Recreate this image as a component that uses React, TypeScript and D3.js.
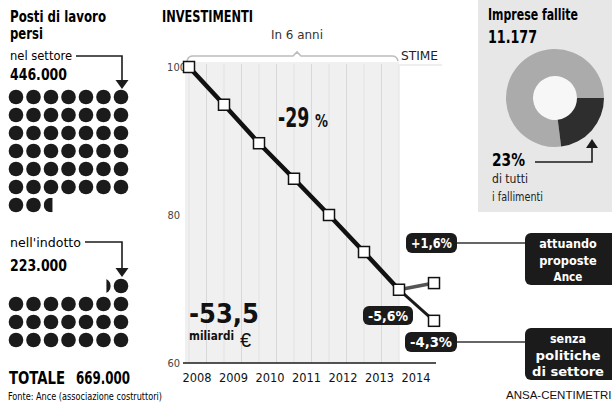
import React from 'react';
import * as d3 from 'd3';

// ---------- DATA ----------
const years = ['2008', '2009', '2010', '2011', '2012', '2013', '2014'];
const investIndex = [100, 94.9, 89.7, 84.9, 80.0, 75.0, 69.9];
const scenarioIndex = [70.8, 65.7];
const scenarioChange = ['+1,6%', '-4,3%'];
const scenarioNames = [
  ['attuando', 'proposte', 'Ance'],
  ['senza', 'politiche', 'di settore'],
];
const lastYearChange = '-5,6%';
const yTicks = [100, 80, 60];
const jobsSector = 446000;
const jobsIndotto = 223000;
const jobsUnit = 10000;
const failedShare = 0.23;

// ---------- STYLE ----------
const COND = "'Liberation Sans Narrow','DejaVu Sans Condensed','Arial Narrow','DejaVu Sans',sans-serif";
const PLAIN = "'Liberation Sans',Arial,sans-serif";
const DARK = '#1b1b1b';

const COLS = 7;
const DOT_DX = 17.5;
const DOT_DY = 18;
const DOT_R = 7.3;
const DOT_X0 = 16;

type Dot = { cx: number; cy: number; frac: number; fromLeft: boolean };

function dotsTopDown(value: number, y0: number): Dot[] {
  const n = value / jobsUnit;
  const out: Dot[] = [];
  const full = Math.floor(n);
  const total = Math.ceil(n);
  for (let i = 0; i < total; i++) {
    const r = Math.floor(i / COLS);
    const c = i % COLS;
    out.push({ cx: DOT_X0 + c * DOT_DX, cy: y0 + r * DOT_DY, frac: i < full ? 1 : n - full, fromLeft: true });
  }
  return out;
}

function dotsBottomUp(value: number, yBottom: number): Dot[] {
  const n = value / jobsUnit;
  const out: Dot[] = [];
  const full = Math.floor(n);
  const total = Math.ceil(n);
  for (let i = 0; i < total; i++) {
    const r = Math.floor(i / COLS);
    const c = COLS - 1 - (i % COLS);
    out.push({ cx: DOT_X0 + c * DOT_DX, cy: yBottom - r * DOT_DY, frac: i < full ? 1 : n - full, fromLeft: false });
  }
  return out;
}

function DotGroup({ dots, id }: { dots: Dot[]; id: string }) {
  return (
    <g>
      {dots.map((d, i) => {
        if (d.frac >= 1) return <circle key={i} cx={d.cx} cy={d.cy} r={DOT_R} fill={DARK} />;
        const w = 2 * DOT_R * d.frac;
        const cx0 = d.fromLeft ? d.cx - DOT_R : d.cx + DOT_R - w;
        return (
          <g key={i}>
            <clipPath id={`${id}-${i}`}>
              <rect x={cx0} y={d.cy - DOT_R} width={w} height={2 * DOT_R} />
            </clipPath>
            <circle cx={d.cx} cy={d.cy} r={DOT_R} fill={DARK} clipPath={`url(#${id}-${i})`} />
          </g>
        );
      })}
    </g>
  );
}

function Label({ x, y, w, h, text }: { x: number; y: number; w: number; h: number; text: string }) {
  return (
    <g>
      <rect x={x} y={y} width={w} height={h} rx={6} fill={DARK} />
      <text x={x + w / 2} y={y + h / 2 + 5} textAnchor="middle" fill="#fff" fontFamily={COND} fontWeight={700} fontSize={14}
        textLength={w - 10} lengthAdjust="spacingAndGlyphs">
        {text}
      </text>
    </g>
  );
}

export default function App() {
  const x = d3.scaleLinear().domain([0, 7]).range([189, 434]);
  const y = d3.scaleLinear().domain([60, 100]).range([363, 67]);
  const yearX = d3.scalePoint<string>().domain(years).range([197, 416]);

  const line = d3.line<number>().x((_, i) => x(i)).y((v) => y(v));
  const last = investIndex.length - 1;

  const arc = d3.arc<any>();
  const donutC = [555, 98];
  const rIn = 22;
  const rOut = 49;
  const darkStart = Math.PI / 2;
  const darkEnd = darkStart + failedShare * 2 * Math.PI;

  const dots1 = dotsTopDown(jobsSector, 97);
  const dots2 = dotsBottomUp(jobsIndotto, 340);

  const gridXs = d3.range(0, last).map((i) => x(i + 0.5));

  return (
    <svg width={612} height={402} style={{ position: 'absolute', left: 0, top: 0, background: '#fff' }}>
      {/* ---------- LEFT PANEL ---------- */}
      <text x={10} y={22} fontFamily={COND} fontWeight={700} fontSize={15} textLength={96} lengthAdjust="spacingAndGlyphs">Posti di lavoro</text>
      <text x={10} y={39} fontFamily={COND} fontWeight={700} fontSize={15} textLength={33} lengthAdjust="spacingAndGlyphs">persi</text>
      <text x={10} y={60} fontFamily={COND} fontSize={13} textLength={62} lengthAdjust="spacingAndGlyphs">nel settore</text>
      <path d="M76,56 H122 V81" fill="none" stroke={DARK} strokeWidth={1.6} />
      <path d="M115.5,80 L128.5,80 L122,89 Z" fill={DARK} />
      <text x={10} y={80} fontFamily={COND} fontWeight={700} fontSize={16} textLength={57} lengthAdjust="spacingAndGlyphs">446.000</text>
      <DotGroup dots={dots1} id="d1" />

      <text x={10} y={247} fontFamily={COND} fontSize={13} textLength={71} lengthAdjust="spacingAndGlyphs">nell'indotto</text>
      <path d="M85,242 H122 V269" fill="none" stroke={DARK} strokeWidth={1.6} />
      <path d="M115.5,268 L128.5,268 L122,277 Z" fill={DARK} />
      <text x={10} y={271} fontFamily={COND} fontWeight={700} fontSize={16} textLength={57} lengthAdjust="spacingAndGlyphs">223.000</text>
      <DotGroup dots={dots2} id="d2" />

      <text x={9} y={384} fontFamily={COND} fontWeight={700} fontSize={17} textLength={56} lengthAdjust="spacingAndGlyphs">TOTALE</text>
      <text x={76} y={384} fontFamily={COND} fontWeight={700} fontSize={17} textLength={54} lengthAdjust="spacingAndGlyphs">669.000</text>
      <text x={8} y={400} fontFamily={COND} fontSize={10} textLength={154} lengthAdjust="spacingAndGlyphs">Fonte: Ance (associazione costruttori)</text>

      {/* ---------- CENTER CHART ---------- */}
      <text x={162} y={22} fontFamily={COND} fontWeight={700} fontSize={15} textLength={91} lengthAdjust="spacingAndGlyphs">INVESTIMENTI</text>
      <text x={297} y={39} textAnchor="middle" fontFamily={COND} fontSize={13} fill="#333" textLength={52} lengthAdjust="spacingAndGlyphs">In 6 anni</text>
      <path d="M187,61 Q188,56 193,56 H293 L297,52 L301,56 H392 Q397,56 398,61" fill="none" stroke="#bdbdbd" strokeWidth={1.6} />
      <text x={401} y={60} fontFamily={COND} fontSize={13} fill="#222" textLength={37} lengthAdjust="spacingAndGlyphs">STIME</text>
      <line x1={400} x2={442} y1={65} y2={65} stroke="#dcdcdc" strokeWidth={1} />

      <rect x={185} y={62} width={x(last) - 185} height={y(60) - 62} fill="#f0f0f0" />
      {gridXs.map((gx, i) => (
        <line key={i} x1={gx} x2={gx} y1={64} y2={y(60)} stroke="#d8d8d8" strokeWidth={1} />
      ))}
      {investIndex.map((_, i) => (
        <line key={'p' + i} x1={x(i)} x2={x(i)} y1={64} y2={y(60)} stroke="#e2e2e2" strokeWidth={1} />
      ))}

      <line x1={183} x2={436} y1={y(60)} y2={y(60)} stroke={DARK} strokeWidth={1.6} />
      {yTicks.map((t) => (
        <text key={t} x={t === 100 ? 186 : 180} y={y(t) + 4} textAnchor="end" fontFamily={COND} fontSize={11} fill="#444">{t}</text>
      ))}
      {years.map((yr) => (
        <text key={yr} x={yearX(yr)} y={382} textAnchor="middle" fontFamily={COND} fontSize={13} fill="#111"
          textLength={29} lengthAdjust="spacingAndGlyphs">{yr}</text>
      ))}

      {/* scenario branches */}
      <line x1={x(last)} y1={y(investIndex[last])} x2={x(last + 1)} y2={y(scenarioIndex[0])} stroke="#555" strokeWidth={3.5} />
      <line x1={x(last)} y1={y(investIndex[last])} x2={x(last + 1)} y2={y(scenarioIndex[1])} stroke={DARK} strokeWidth={3} />
      {/* main line */}
      <path d={line(investIndex) || ''} fill="none" stroke="#111" strokeWidth={4.5} strokeLinejoin="round" />
      {[...investIndex.map((v, i) => [x(i), y(v)]), ...scenarioIndex.map((v) => [x(last + 1), y(v)])].map(([px, py], i) => (
        <rect key={i} x={px - 5.5} y={py - 5.5} width={11} height={11} fill="#fff" stroke="#111" strokeWidth={1.5} />
      ))}

      {/* big annotations */}
      <text transform="translate(278,127) scale(0.74,1)" fontFamily={COND} fontWeight={700} fontSize={26} fill="#111">-29</text>
      <text transform="translate(315,127) scale(0.8,1)" fontFamily={COND} fontWeight={700} fontSize={18} fill="#111">%</text>
      <text x={189} y={323} fontFamily={COND} fontWeight={700} fontSize={26} fill="#111" textLength={70} lengthAdjust="spacingAndGlyphs">-53,5</text>
      <text x={189} y={340} fontFamily={COND} fontWeight={700} fontSize={12} fill="#111" textLength={45} lengthAdjust="spacingAndGlyphs">miliardi</text>
      <text x={240} y={347} fontFamily={PLAIN} fontSize={20} fill="#111">€</text>

      <Label x={363} y={306} w={50} h={19} text={lastYearChange} />
      <Label x={406} y={233} w={51} h={20} text={scenarioChange[0]} />
      <Label x={405} y={332} w={52} h={20} text={scenarioChange[1]} />
      <line x1={457} x2={526} y1={243} y2={243} stroke="#333" strokeWidth={1.5} />
      <line x1={457} x2={526} y1={342} y2={342} stroke="#333" strokeWidth={1.5} />

      {scenarioNames.map((lines, k) => {
        const top = k === 0 ? 233 : 328;
        return (
          <g key={k}>
            <rect x={525} y={top} width={95} height={52} rx={6} fill={DARK} />
            {lines.map((ln, j) => (
              <text key={j} x={568} y={top + 15 + j * 16.5} textAnchor="middle" fill="#fff" fontFamily={COND} fontWeight={700} fontSize={13}
                textLength={ln.length * 7.2} lengthAdjust="spacingAndGlyphs">{ln}</text>
            ))}
          </g>
        );
      })}
      <text x={506} y={399} fontFamily={PLAIN} fontSize={11.5} fill="#111">ANSA-CENTIMETRI</text>

      {/* ---------- RIGHT PANEL ---------- */}
      <rect x={478} y={0} width={134} height={212} fill="#e7e7e7" />
      <text x={488} y={20} fontFamily={COND} fontWeight={700} fontSize={15} textLength={90} lengthAdjust="spacingAndGlyphs">Imprese fallite</text>
      <text x={488} y={43} fontFamily={COND} fontWeight={700} fontSize={17} textLength={49} lengthAdjust="spacingAndGlyphs">11.177</text>
      <g transform={`translate(${donutC[0]},${donutC[1]})`}>
        <circle r={rIn} fill="#f7f7f7" />
        <path d={arc({ innerRadius: rIn, outerRadius: rOut, startAngle: darkEnd, endAngle: darkStart + 2 * Math.PI }) || ''} fill="#ababab" />
        <path d={arc({ innerRadius: rIn, outerRadius: rOut, startAngle: darkStart, endAngle: darkEnd }) || ''} fill="#2e2e2e" />
      </g>
      <path d="M535,162 H592 V147" fill="none" stroke={DARK} strokeWidth={1.6} />
      <path d="M586,148 L598,148 L592,139 Z" fill={DARK} />
      <text x={492} y={166} fontFamily={COND} fontWeight={700} fontSize={17} textLength={33} lengthAdjust="spacingAndGlyphs">23%</text>
      <text x={492} y={183} fontFamily={COND} fontSize={13} fill="#222" textLength={36} lengthAdjust="spacingAndGlyphs">di tutti</text>
      <text x={492} y={201} fontFamily={COND} fontSize={13} fill="#222" textLength={51} lengthAdjust="spacingAndGlyphs">i fallimenti</text>
    </svg>
  );
}
